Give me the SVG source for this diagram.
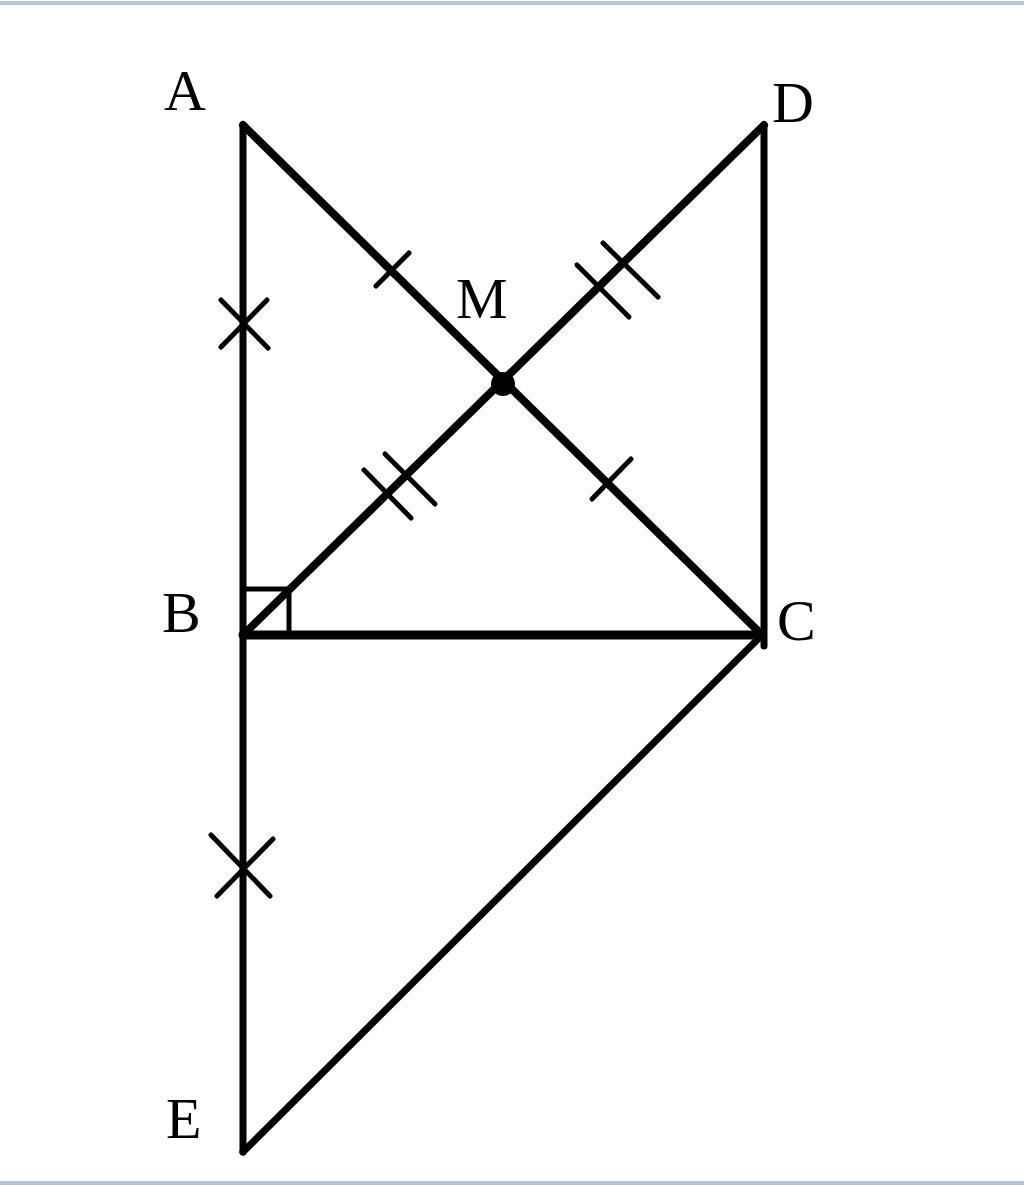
<svg xmlns="http://www.w3.org/2000/svg" width="1024" height="1186" viewBox="0 0 1024 1186">
<style>
.seg{stroke:#000;stroke-linecap:round;fill:none}
.tick{stroke:#000;stroke-width:5;stroke-linecap:round;fill:none}
.lbl{font-family:"Liberation Serif","Times New Roman",serif;font-size:58px;fill:#000}
.border{stroke:#b9c3d6;stroke-width:4}
</style>
<rect width="1024" height="1186" fill="#fff"/>
<line class="border" x1="0" y1="3" x2="1024" y2="3"/>
<line class="border" x1="0" y1="1183" x2="1024" y2="1183"/>
<g id="connectors">
<line class="seg" stroke-width="7" x1="243" y1="125" x2="243" y2="1152"/>
<line class="seg" stroke-width="8" x1="243" y1="125" x2="762" y2="635"/>
<line class="seg" stroke-width="8" x1="243" y1="635" x2="764" y2="125"/>
<line class="seg" stroke-width="7" x1="764" y1="125" x2="764" y2="646"/>
<line class="seg" stroke-width="9" x1="243" y1="635" x2="762" y2="635"/>
<line class="seg" stroke-width="7" x1="762" y1="635" x2="243" y2="1152"/>
<rect x="243" y="589" width="46" height="46" fill="none" stroke="#000" stroke-width="5"/>
<line class="tick" x1="376" y1="286" x2="409" y2="253"/>
<line class="tick" x1="592" y1="499" x2="631" y2="459"/>
<line class="tick" x1="577" y1="265" x2="629" y2="317"/>
<line class="tick" x1="603" y1="243" x2="658" y2="297"/>
<line class="tick" x1="364" y1="470" x2="411" y2="518"/>
<line class="tick" x1="385" y1="454" x2="435" y2="504"/>
<line class="tick" stroke-width="7" x1="221" y1="300" x2="268" y2="348"/>
<line class="tick" stroke-width="7" x1="221" y1="347" x2="267" y2="300"/>
<line class="tick" stroke-width="7" x1="211" y1="835" x2="270" y2="896"/>
<line class="tick" stroke-width="7" x1="273" y1="839" x2="217" y2="896"/>
</g>
<g id="M"><circle cx="503" cy="384" r="12" fill="#000"/><text class="lbl" x="456" y="318">M</text></g>
<g id="A"><text class="lbl" x="164" y="110">A</text></g>
<g id="D"><text class="lbl" x="772" y="122">D</text></g>
<g id="B"><text class="lbl" x="162" y="632">B</text></g>
<g id="C"><text class="lbl" x="777" y="640">C</text></g>
<g id="E"><text class="lbl" x="166" y="1138">E</text></g>
</svg>
